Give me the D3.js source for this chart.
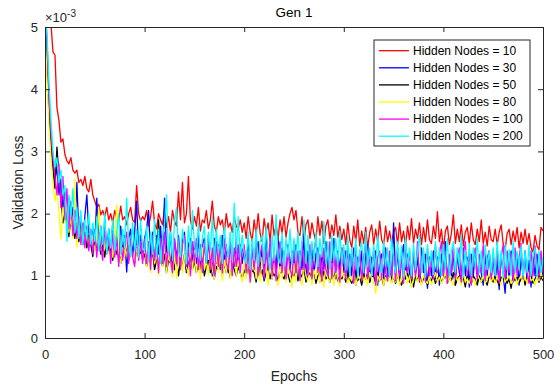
<!DOCTYPE html>
<meta charset="utf-8">
<script src="https://cdn.jsdelivr.net/npm/d3@7"></script>

<style>
  body { margin: 0; background: #fff; }
  svg { display: block; font-family: "Liberation Sans", Arial, sans-serif; }
  .axis path, .axis line { stroke: #262626; stroke-width: 1; }
  .axis text { fill: #262626; font-size: 13px; font-family: "Liberation Sans", Arial, sans-serif; }
</style>

<div id="chart"></div>

<script>
// epochs sampled every 2, values in units of 1e-3
var epochs = d3.range(0, 501, 2);
var xTicks = [0, 100, 200, 300, 400, 500];
var yTicks = [0, 1, 2, 3, 4, 5];
var legendLabels = ["Hidden Nodes = 10", "Hidden Nodes = 30", "Hidden Nodes = 50",
                    "Hidden Nodes = 80", "Hidden Nodes = 100", "Hidden Nodes = 200"];
var colors = ["#ff0000", "#0000ff", "#000000", "#ffff00", "#ff00ff", "#00ffff"];

var loss10 = [
  5.6,5.4,5.2,5.05,4.6,4.55,3.7,3.5,3.15,3.2,2.95,2.85,2.8,2.9,2.7,2.65,2.7,2.5,2.55,2.45,2.6,2.4,2.35,2.55,2.3,
  2.2,2.1,2.15,1.98,2.05,1.95,2.1,1.9,2.0,1.85,2.05,1.92,1.88,2.12,1.9,1.95,1.82,2.0,2.1,1.9,1.86,2.45,2.0,1.88,1.95,
  1.9,2.05,1.8,1.95,2.2,1.85,1.75,2.0,1.9,1.82,2.1,1.78,1.95,1.7,2.05,1.88,1.8,2.35,1.9,2.5,1.85,2.0,2.6,1.9,1.75,
  1.95,1.8,2.1,1.72,1.9,1.85,2.05,1.76,1.9,2.2,1.8,1.7,1.95,1.82,1.9,1.68,2.0,1.78,1.85,1.7,1.95,1.8,1.75,1.9,1.7,
  1.85,1.6,1.95,1.7,1.55,1.9,1.65,2.0,1.68,1.55,1.92,1.7,1.85,1.55,1.98,1.65,1.82,1.6,1.9,1.68,1.95,1.62,1.85,2.0,2.1,
  1.9,2.05,1.7,1.65,1.95,1.55,1.82,1.9,1.6,1.85,1.68,1.55,1.95,1.65,1.88,1.52,1.8,1.9,1.6,1.82,1.65,1.98,1.62,1.8,1.58,
  1.75,1.5,1.85,1.58,1.45,1.8,1.55,1.9,1.48,1.72,1.52,1.78,1.45,1.7,1.82,1.5,1.75,1.55,1.88,1.58,1.5,1.8,1.55,1.72,1.52,
  1.7,1.78,1.5,1.85,1.55,1.72,1.48,1.8,1.58,1.92,1.52,1.75,1.6,1.85,1.5,1.78,1.55,1.9,1.58,1.52,1.8,1.6,2.03,1.55,1.75,
  1.42,1.72,1.8,1.5,1.68,1.98,1.52,1.75,1.55,1.82,1.48,1.7,1.78,1.52,1.85,1.58,1.5,1.75,1.55,1.9,1.52,1.7,1.48,1.8,1.58,
  1.55,1.75,1.5,1.7,1.82,1.52,1.42,1.68,1.75,1.5,1.72,1.55,1.78,1.45,1.7,1.52,1.75,1.5,1.68,1.45,1.38,1.65,1.48,1.42,1.78,
  1.72
];

var loss30 = [
  5.4,4.7,3.8,3.2,2.8,2.55,2.75,2.3,2.55,2.1,2.35,1.9,2.25,1.8,2.1,1.7,2.5,1.65,1.9,1.55,1.95,2.3,1.7,1.5,1.8,
  1.5,2.25,1.45,1.8,1.35,1.9,1.4,1.75,1.3,1.85,1.4,1.7,1.25,1.8,1.35,1.65,1.06,1.6,1.75,1.3,1.7,2.2,1.35,1.65,1.25,
  1.6,1.75,2.05,1.3,1.7,1.2,1.65,1.35,1.8,1.25,2.25,1.4,1.3,1.7,1.15,1.6,1.25,1.65,1.2,1.55,1.7,1.1,1.5,1.6,1.2,
  1.55,1.2,1.65,1.1,1.5,1.6,1.15,1.55,1.25,1.0,1.6,1.2,1.5,1.1,1.65,1.2,1.5,1.05,1.55,1.25,1.15,1.6,1.1,1.5,1.2,
  1.45,1.1,1.6,1.0,1.5,1.15,1.4,1.55,1.05,1.45,1.1,1.7,1.15,1.5,0.95,1.4,1.1,1.6,1.05,1.45,1.15,1.0,1.5,1.1,1.4,
  1.15,1.5,1.0,1.4,1.1,1.65,0.95,1.4,1.1,1.5,1.0,1.35,1.45,0.9,1.4,1.1,1.55,1.0,1.35,1.05,1.6,0.95,1.4,1.1,1.45,
  1.05,1.4,0.9,1.35,1.0,1.45,0.85,1.3,1.0,1.4,0.95,1.35,1.5,0.9,1.3,1.0,1.4,0.85,1.25,1.35,0.95,1.45,1.0,1.3,0.9,
  1.85,1.0,1.4,0.9,1.3,1.5,0.95,1.35,1.05,0.85,1.4,1.0,1.3,0.9,1.45,1.05,1.35,0.8,1.3,1.0,1.4,0.95,1.3,0.85,1.35,
  1.0,1.55,0.9,1.3,1.0,1.4,0.85,1.35,1.05,0.95,1.45,1.0,1.3,0.82,1.35,1.0,1.4,0.9,1.3,1.05,0.85,1.35,1.0,1.4,0.95,
  1.3,0.9,1.25,0.78,1.35,1.0,0.72,1.3,0.95,1.4,0.9,1.25,1.35,0.85,1.3,1.0,1.4,0.9,1.25,0.82,1.3,1.0,1.35,0.9,1.25,
  0.95
];

var loss50 = [
  5.2,4.4,3.6,3.1,2.7,2.4,3.07,2.6,2.3,1.85,2.1,1.9,1.63,1.95,1.75,1.6,1.85,1.55,1.8,1.5,1.7,1.45,1.65,1.5,1.31,
  1.6,1.4,1.55,1.35,1.5,1.3,1.6,1.4,1.45,1.25,1.5,1.35,1.4,1.2,1.45,1.3,1.5,1.25,1.4,1.35,1.2,1.45,1.3,1.4,1.28,
  1.35,1.15,1.3,1.2,1.4,1.1,1.25,1.9,1.3,1.15,1.35,1.05,1.25,1.2,1.4,1.1,1.3,1.0,1.25,1.15,1.35,1.05,1.2,1.3,1.1,
  1.25,1.05,1.2,1.1,1.3,1.0,1.15,1.25,1.05,1.2,0.95,1.15,1.1,1.25,1.0,1.2,1.05,1.15,0.98,1.2,1.1,1.0,1.15,1.05,0.95,
  1.1,1.0,1.15,0.95,1.1,1.05,0.9,1.15,1.0,1.1,0.92,1.05,1.15,0.95,1.1,1.0,1.05,0.9,1.12,1.0,0.95,1.1,1.02,0.9,1.05,
  1.0,1.1,0.92,1.05,0.98,1.12,0.9,1.0,1.05,0.95,1.1,0.88,1.0,1.05,0.92,1.08,0.95,1.0,0.9,1.05,0.98,1.1,0.92,1.0,0.95,
  1.02,0.9,1.05,0.95,0.88,1.0,1.08,0.92,0.98,0.85,1.02,0.95,1.05,0.9,0.98,1.0,0.88,1.05,0.92,0.98,0.85,1.0,0.95,1.05,0.9,
  0.98,0.88,1.02,0.92,0.85,1.0,0.95,1.05,0.9,0.98,0.82,1.0,0.92,1.05,0.88,0.95,1.0,0.85,0.98,0.92,1.02,0.88,0.95,1.0,0.9,
  0.95,1.02,0.88,0.98,0.92,1.05,0.85,0.95,1.0,0.9,0.98,0.82,1.02,0.92,0.88,1.0,0.95,0.85,1.0,0.9,0.98,0.92,0.85,1.0,0.95,
  0.9,1.0,0.92,0.85,0.98,0.95,1.02,0.88,0.95,0.8,1.0,0.92,0.98,0.88,0.95,1.02,0.85,0.98,0.9,1.0,0.88,0.95,1.02,0.9,0.98,
  0.92
];

var loss80 = [
  5.0,4.2,3.4,2.9,2.5,2.2,2.45,2.0,1.6,2.1,1.85,2.2,1.7,1.95,1.6,2.55,1.46,1.9,1.55,1.8,1.5,1.75,1.45,1.7,1.55,
  1.4,1.65,2.1,1.45,1.3,1.55,1.4,1.35,1.6,1.3,1.5,2.14,1.35,1.2,1.45,1.3,1.55,1.25,1.4,1.35,1.2,1.45,1.3,1.5,1.25,
  1.5,1.15,1.4,1.05,1.55,1.2,1.35,1.0,1.45,1.15,1.6,1.05,1.35,1.2,0.98,1.4,0.96,1.25,1.5,1.05,1.35,1.15,1.0,1.45,1.1,
  1.4,1.05,1.3,0.95,1.45,1.1,1.25,1.0,1.4,1.1,0.95,1.35,1.05,1.4,0.92,1.25,1.05,1.35,0.95,1.2,1.4,1.0,1.25,1.05,0.9,
  1.25,0.95,1.3,0.88,1.15,1.35,0.95,1.2,0.9,1.3,1.0,1.15,0.85,1.3,0.95,1.2,1.0,0.84,1.15,0.95,1.3,0.9,1.15,1.0,0.82,
  1.2,0.9,1.25,0.95,0.85,1.2,1.0,0.9,1.3,0.85,1.1,0.95,1.25,0.88,1.1,0.82,1.2,0.95,0.9,1.2,0.85,1.1,0.95,0.84,1.15,
  0.95,1.05,0.88,1.0,0.92,1.1,0.85,1.0,0.95,1.08,0.9,1.0,0.85,1.05,0.95,0.88,0.72,1.0,0.92,1.05,0.85,0.98,0.9,1.02,0.88,
  1.0,0.9,1.05,0.85,0.98,0.92,1.08,0.88,1.0,0.82,0.95,1.05,0.9,0.98,0.85,1.02,0.92,0.88,1.0,0.85,0.95,1.05,0.9,0.98,0.88,
  0.95,1.05,0.88,1.0,0.9,0.85,1.02,0.92,0.98,0.85,1.05,0.9,0.95,0.88,1.0,0.92,0.85,1.02,0.95,0.9,1.0,0.88,0.95,1.05,0.9,
  0.98,0.88,1.0,0.92,0.85,1.05,0.9,0.95,1.0,0.88,0.92,1.02,0.85,0.95,1.0,0.9,0.98,0.88,1.05,0.92,0.95,0.85,1.0,0.92,1.05,
  0.95
];

var loss100 = [
  5.3,4.8,3.9,3.3,2.9,2.6,2.3,2.8,2.1,2.6,1.9,2.4,1.75,2.2,1.65,2.05,1.6,1.95,1.5,1.85,1.45,1.8,1.4,1.75,1.35,
  1.75,1.3,1.7,1.45,1.25,1.8,1.35,1.65,1.2,1.7,1.3,1.6,1.15,1.65,1.25,1.55,1.7,1.2,1.6,1.3,1.15,1.65,1.25,1.55,1.2,
  1.6,1.2,1.55,1.1,1.65,1.25,1.5,1.05,1.6,1.2,1.7,1.15,1.5,1.25,1.05,1.6,1.2,1.55,1.1,1.5,1.65,1.15,1.45,1.0,1.55,
  1.2,1.6,1.1,1.5,1.05,1.55,1.2,1.65,1.1,1.45,1.0,1.55,1.15,1.5,1.05,1.6,1.2,1.1,1.55,1.0,1.45,1.15,1.5,1.05,1.4,
  1.5,1.05,1.4,0.9,1.45,1.1,1.55,1.0,1.35,1.5,0.95,1.4,1.1,1.6,1.0,1.45,0.92,1.35,1.55,1.05,1.4,0.95,1.5,1.1,1.0,
  1.45,1.05,1.4,0.92,1.55,1.1,1.35,1.0,1.5,0.95,1.4,1.6,1.05,1.35,0.92,1.45,1.1,1.0,1.55,0.95,1.4,1.05,1.35,0.9,1.45,
  1.3,0.95,1.45,1.0,1.35,0.88,1.5,1.05,1.4,0.92,1.3,1.55,0.95,1.35,1.0,1.45,0.85,1.3,1.4,0.95,1.5,1.05,0.92,1.4,1.0,
  1.35,0.92,1.45,1.0,1.3,0.88,1.5,1.05,1.4,0.95,1.35,1.0,1.55,0.92,1.3,1.4,0.9,1.45,1.0,1.3,0.95,1.5,1.05,1.35,1.55,
  1.0,1.4,0.88,1.35,1.05,1.5,0.95,1.3,1.45,0.9,1.35,1.55,1.0,1.4,0.85,1.3,1.45,0.95,1.35,1.05,1.5,0.92,1.3,1.4,0.95,
  1.35,1.0,1.45,0.88,1.3,1.5,0.95,1.4,1.05,1.35,0.92,1.45,1.0,1.3,1.52,0.95,1.35,1.05,0.88,1.4,1.0,1.48,1.1,0.95,1.4,
  1.05
];

var loss200 = [
  5.5,4.9,4.1,3.5,3.0,2.75,2.9,2.5,2.7,2.3,2.45,1.55,2.3,1.95,2.4,1.7,2.1,1.6,2.05,1.5,1.9,1.6,2.0,1.5,1.85,
  1.55,1.95,1.4,1.8,1.5,2.0,1.35,1.75,1.45,1.9,1.4,1.7,2.0,1.35,1.75,1.45,2.25,1.5,1.3,1.85,1.4,1.75,1.3,1.9,1.45,
  1.4,1.8,1.25,1.7,1.35,1.9,1.3,1.75,1.2,1.6,1.85,2.3,1.35,1.7,1.25,1.85,2.1,1.4,1.3,1.75,1.5,1.2,1.8,1.35,2.05,
  1.5,1.3,1.85,1.25,1.6,1.8,1.2,1.7,1.4,1.95,1.25,1.75,1.35,1.65,1.2,1.8,1.45,1.3,1.7,1.25,2.17,1.4,1.95,1.3,1.65,
  1.35,1.2,1.7,1.1,1.6,1.25,1.75,1.15,1.55,1.65,1.2,1.8,1.3,1.1,1.65,1.25,1.98,1.3,1.2,1.7,1.15,1.6,1.3,1.75,1.2,
  1.6,1.25,1.7,1.15,1.55,1.9,1.2,1.65,1.1,1.55,1.25,1.7,1.15,1.6,1.3,1.87,1.2,1.55,1.1,1.65,1.25,1.6,1.18,1.72,1.2,
  1.5,1.1,1.65,1.0,1.45,1.15,1.6,0.98,1.4,1.55,1.05,1.7,1.15,1.45,1.0,1.5,1.1,1.65,1.2,1.05,1.55,1.15,1.45,0.98,1.6,
  1.2,1.05,1.55,1.1,1.48,0.98,1.6,1.15,1.45,1.0,1.52,1.1,1.4,1.65,1.05,1.45,0.98,1.5,1.15,1.4,1.02,1.55,1.1,1.45,1.0,
  1.5,1.1,1.6,1.0,1.4,1.55,1.05,1.45,1.15,1.65,0.98,1.4,1.1,1.52,1.0,1.45,1.15,1.6,1.05,1.4,1.0,1.5,1.1,1.4,1.05,
  1.45,1.0,1.55,1.1,1.4,0.98,1.5,1.1,1.42,1.0,1.55,1.05,1.4,1.1,1.48,0.98,1.4,1.05,1.5,1.0,1.35,1.45,0.98,1.4,1.05,
  1.3
];

var series = [loss10, loss30, loss50, loss80, loss100, loss200];

// size of the figure and the plot box
var W = 560, H = 387;
var margin = {top: 27, right: 17, bottom: 49, left: 45},
    width = W - margin.left - margin.right,
    height = H - margin.top - margin.bottom;

var svg = d3.select("#chart")
  .append("svg")
    .attr("width", W)
    .attr("height", H);

svg.append("rect").attr("width", W).attr("height", H).attr("fill", "#fff");

var g = svg.append("g")
    .attr("transform", "translate(" + margin.left + "," + margin.top + ")");

var x = d3.scaleLinear().domain([0, 500]).range([0, width]);
var y = d3.scaleLinear().domain([0, 5]).range([height, 0]);

g.append("clipPath").attr("id", "plotclip")
  .append("rect").attr("width", width).attr("height", height);

var line = d3.line()
  .x(function(d, i) { return x(epochs[i]); })
  .y(function(d) { return y(d); });

g.append("g").attr("clip-path", "url(#plotclip)")
  .selectAll("path")
  .data(series)
  .enter()
  .append("path")
    .attr("d", line)
    .attr("fill", "none")
    .attr("stroke", function(d, i) { return colors[i]; })
    .attr("stroke-width", 1.3)
    .attr("stroke-linejoin", "round");

// axes, ticks pointing inwards on all four sides
g.append("g").attr("class", "axis")
  .attr("transform", "translate(0," + height + ")")
  .call(d3.axisBottom(x).tickValues(xTicks).tickSizeInner(-5).tickSizeOuter(0).tickPadding(12));

g.append("g").attr("class", "axis")
  .call(d3.axisLeft(y).tickValues(yTicks).tickFormat(d3.format("d"))
    .tickSizeInner(-5).tickSizeOuter(0).tickPadding(7));

g.append("g").attr("class", "axis")
  .call(d3.axisTop(x).tickValues(xTicks).tickFormat("").tickSizeInner(-5).tickSizeOuter(0));

g.append("g").attr("class", "axis")
  .attr("transform", "translate(" + width + ",0)")
  .call(d3.axisRight(y).tickValues(yTicks).tickFormat("").tickSizeInner(-5).tickSizeOuter(0));

// exponent label
var expo = svg.append("text")
  .attr("x", 45).attr("y", 22)
  .attr("font-size", "13px")
  .attr("fill", "#262626");
expo.append("tspan").text("\u00d710");
expo.append("tspan").attr("dy", -5).attr("font-size", "10px").text("-3");

// title and axis labels
svg.append("text")
  .attr("x", margin.left + width / 2).attr("y", 17)
  .attr("text-anchor", "middle")
  .attr("font-size", "13.5px")
  .attr("fill", "#000")
  .text("Gen 1");

svg.append("text")
  .attr("x", margin.left + width / 2).attr("y", 381)
  .attr("text-anchor", "middle")
  .attr("font-size", "14px")
  .attr("fill", "#262626")
  .text("Epochs");

svg.append("text")
  .attr("transform", "translate(23," + (margin.top + height / 2) + ") rotate(-90)")
  .attr("text-anchor", "middle")
  .attr("font-size", "14px")
  .attr("fill", "#262626")
  .text("Validation Loss");

// legend
var legend = svg.append("g").attr("transform", "translate(374,40)");
legend.append("rect")
  .attr("width", 156).attr("height", 106)
  .attr("fill", "#fff")
  .attr("stroke", "#262626")
  .attr("stroke-width", 1);

var items = legend.selectAll("g.item")
  .data(legendLabels)
  .enter()
  .append("g")
    .attr("class", "item")
    .attr("transform", function(d, i) { return "translate(0," + (10.7 + i * 17.1) + ")"; });

items.append("line")
  .attr("x1", 5).attr("x2", 35)
  .attr("stroke", function(d, i) { return colors[i]; })
  .attr("stroke-width", 1.3);

items.append("text")
  .attr("x", 39)
  .attr("dy", "0.35em")
  .attr("font-size", "12px")
  .attr("fill", "#000")
  .text(function(d) { return d; });
</script>
